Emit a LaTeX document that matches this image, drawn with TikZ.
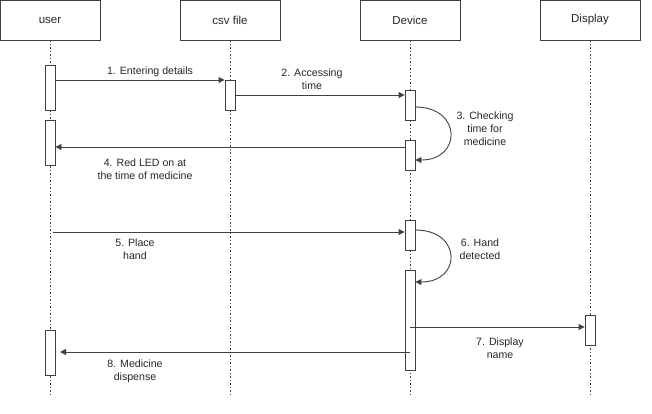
\documentclass[tikz,border=0pt]{standalone}
\usepackage{fontspec}
\setmainfont{Liberation Sans}
\usetikzlibrary{arrows.meta}
\definecolor{ln}{HTML}{404040}
\definecolor{tx}{HTML}{262626}
\begin{document}
\begin{tikzpicture}[x=1pt,y=-1pt,
  head/.style={draw=ln,line width=0.9pt,fill=white,minimum width=100pt,minimum height=40pt,inner sep=0pt,text=tx,font=\fontsize{11.5}{13}\selectfont},
  act/.style={draw=ln,line width=0.9pt,fill=white,minimum width=10pt,inner sep=0pt},
  life/.style={draw=ln,line width=1pt,dash pattern=on 1.5pt off 2pt},
  msg/.style={draw=ln,line width=0.9pt,-{Triangle[length=6pt,width=6pt]}},
  lbl/.style={text=tx,font=\fontsize{10.6}{13}\selectfont,align=center,inner sep=1pt}]
\useasboundingbox (0,0) rectangle (652,413);
% headers
\node[head] (user) at (50,20) {user};
\node[head] (csv) at (230,20) {csv file};
\node[head] (dev) at (410,20) {Device};
\node[head] (disp) at (590,20) {Display};
% lifelines
\coordinate (ue) at (50,397);
\coordinate (ce) at (230,397);
\coordinate (de) at (410,397);
\coordinate (pe) at (590,397);
\draw[life] (user.south) -- (ue);
\draw[life] (csv.south) -- (ce);
\draw[life] (dev.south) -- (de);
\draw[life] (disp.south) -- (pe);
% activations
\node[act,minimum height=45pt] (ua1) at (50,87.5) {};
\node[act,minimum height=45pt] (ua2) at (50,142.5) {};
\node[act,minimum height=45pt] (ua3) at (50,352.5) {};
\node[act,minimum height=30pt] (ca1) at (230,95) {};
\node[act,minimum height=30pt] (da1) at (410,105) {};
\node[act,minimum height=30pt] (da2) at (410,155) {};
\node[act,minimum height=30pt] (da3) at (410,235) {};
\node[act,minimum height=100pt] (da4) at (410,320) {};
\node[act,minimum height=30pt] (pa1) at (590,330) {};
% messages
\draw[msg] (ua1.east |- 0,80) -- (ca1.west |- 0,80);
\node[lbl,fill=white] (l1) at (150,72) {1. Entering details};
\draw[msg] (ca1.east |- 0,95) -- (da1.west |- 0,95);
\node[lbl] (l2) at (312,79) {2. Accessing\\time};
\draw[msg] (da1.east |- 0,107) .. controls (462,107) and (462,160) .. (da2.east |- 0,160);
\node[lbl] (l3) at (485,129) {3. Checking\\time for\\medicine};
\draw[msg] (da2.west |- 0,147) -- (ua2.east |- 0,147);
\node[lbl] (l4) at (145,169) {4. Red LED on at\\the time of medicine};
\draw[msg] (53,232) -- (da3.west |- 0,232);
\node[lbl] (l5) at (135,249) {5. Place\\hand};
\draw[msg] (da3.east |- 0,230) .. controls (462,230) and (462,282) .. (da4.east |- 0,282);
\node[lbl] (l6) at (480,249) {6. Hand\\detected};
\draw[msg] (da4.center |- 0,327) -- (pa1.west |- 0,327);
\node[lbl] (l7) at (500,348) {7. Display\\name};
\draw[msg] (da4.center |- 0,352) -- (60,352);
\node[lbl] (l8) at (135,371) {8. Medicine\\dispense};
\end{tikzpicture}
\end{document}
